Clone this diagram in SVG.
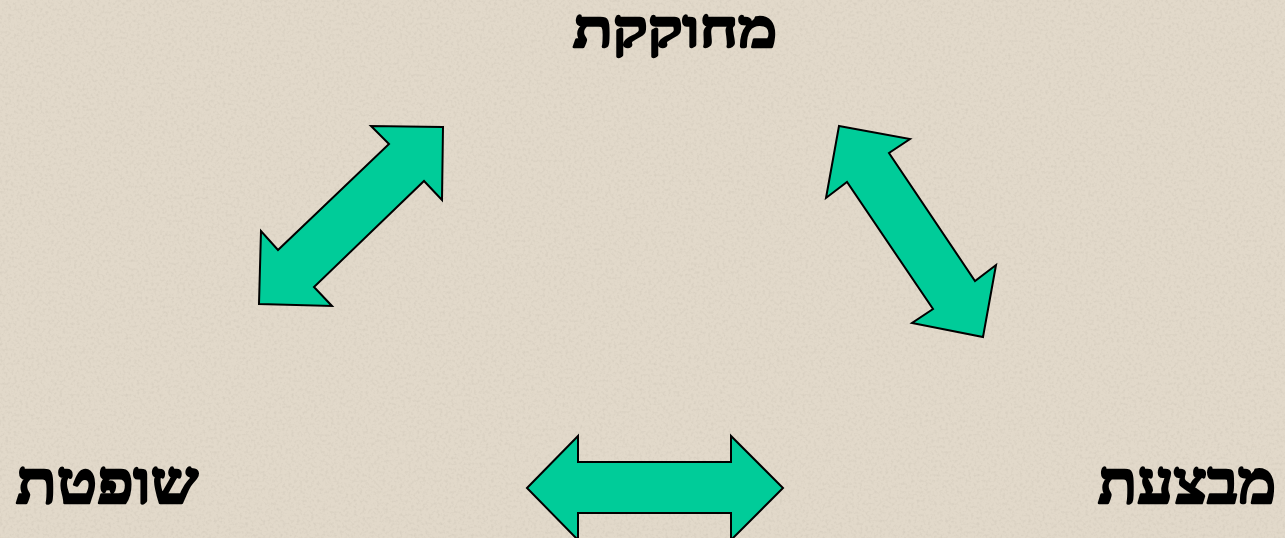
<svg xmlns="http://www.w3.org/2000/svg" width="1285" height="538" viewBox="0 0 1285 538">
<style>
.lbl{font-family:"Liberation Serif","DejaVu Serif",serif;font-weight:bold;fill:#000;stroke:#000;stroke-width:2.6;stroke-linejoin:round;text-anchor:middle}
.arr{fill:#00cc99;stroke:#000;stroke-width:2;stroke-linejoin:miter}
</style>
<defs>
<filter id="paper" x="0" y="0" width="100%" height="100%">
<feTurbulence type="fractalNoise" baseFrequency="0.35" numOctaves="2" seed="3" result="n"/>
<feColorMatrix in="n" type="matrix" values="0 0 0 0 0.55  0 0 0 0 0.5  0 0 0 0 0.42  0 0 0 -1.8 1.0"/>
</filter>
</defs>
<rect width="1285" height="538" fill="#e2d9ca"/>
<rect width="1285" height="538" filter="url(#paper)" opacity="0.45"/>
<g id="connectors">
<polygon class="arr" points="443,127 371,126 389,144 278,250 261,231 259,304 332,306 314,287 424,181 442,200"/>
<polygon class="arr" points="839,126 910,139 889,153 975,281 996,265 983,337 912,323 933,309 847,182 826,198"/>
<polygon class="arr" points="527,488 578,436 578,462 731,462 731,436 783,488 731,540 731,513 578,513 578,540"/>
</g>
<g id="node-legislative"><text class="lbl" x="675" y="47" font-size="53" textLength="204" lengthAdjust="spacingAndGlyphs" direction="rtl">מחוקקת</text></g>
<g id="node-judicial"><text class="lbl" x="107" y="503" font-size="60" textLength="182" lengthAdjust="spacingAndGlyphs" direction="rtl">שופטת</text></g>
<g id="node-executive"><text class="lbl" x="1187" y="503" font-size="60" textLength="178" lengthAdjust="spacingAndGlyphs" direction="rtl">מבצעת</text></g>
</svg>
